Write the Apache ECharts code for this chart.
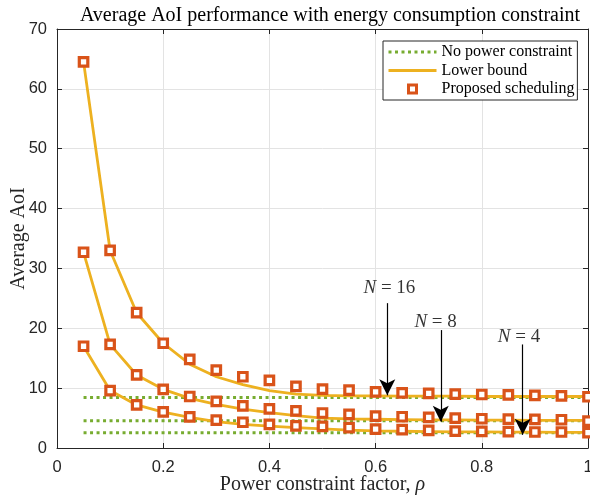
<!DOCTYPE html>
<html><head><meta charset="utf-8">
<script src="https://cdn.jsdelivr.net/npm/echarts@6/dist/echarts.min.js"></script>
<style>html,body{margin:0;padding:0;background:#fff}#c{width:590px;height:497px}</style>
</head><body><div id="c"></div>
<script>
const rho = [0.05,0.1,0.15,0.2,0.25,0.3,0.35,0.4,0.45,0.5,0.55,0.6,0.65,0.7,0.75,0.8,0.85,0.9,0.95,1.0];
// Proposed scheduling
const prop16 = [64.5,33.0,22.6,17.5,14.8,13.0,11.9,11.3,10.3,9.85,9.67,9.39,9.22,9.11,9.0,8.94,8.89,8.78,8.72,8.56];
const prop8  = [32.7,17.3,12.2,9.8,8.6,7.8,7.05,6.55,6.2,5.85,5.61,5.33,5.22,5.11,5.0,4.89,4.83,4.78,4.72,4.5];
const prop4  = [17.0,9.6,7.2,6.05,5.2,4.67,4.3,3.95,3.7,3.6,3.39,3.17,3.06,2.94,2.83,2.78,2.72,2.67,2.67,2.56];
// Lower bound
const lb16 = [64.5,33.0,22.6,17.5,14.0,11.9,10.6,9.6,9.0,8.8,8.7,8.7,8.65,8.65,8.65,8.6,8.6,8.6,8.6,8.6];
const lb8  = [32.7,17.3,12.2,9.8,8.3,7.3,6.5,5.9,5.4,5.0,4.85,4.8,4.75,4.7,4.7,4.65,4.65,4.6,4.6,4.6];
const lb4  = [17.0,9.6,7.2,6.0,5.1,4.4,3.95,3.65,3.4,3.2,3.0,2.85,2.8,2.75,2.7,2.7,2.65,2.65,2.6,2.6];
// No power constraint
const npc16 = 8.45, npc8 = 4.55, npc4 = 2.55;
const npcRange = [0.05, 1.0];
// Annotations
const annLabels = ['16','8','4'];
const annTextPos = [[0.626,26.8],[0.713,21.1],[0.870,18.6]];
const annArrows = [[[0.622,24.2],[0.622,8.8]],[[0.7227,19.7],[0.7227,4.4]],[[0.877,17.3],[0.877,2.2]]];
const xTicks = [0,0.2,0.4,0.6,0.8,1];
const yTicks = [0,10,20,30,40,50,60,70];

const SERIF = '"Liberation Serif","Times New Roman",serif';
const SANS = '"Liberation Sans",Arial,sans-serif';
const GREEN = '#77AC30', ORANGE = '#EDB120', RED = '#D95319', AX = '#262626';

const pairs = (ys) => rho.map((x,i)=>[x,ys[i]]);
const flat = (v) => npcRange.map(x=>[x,v]);

const lineBase = {type:'line', symbol:'none', showSymbol:false, silent:true, animation:false, z:2};
const series = [];
[npc16,npc8,npc4].forEach(v=>series.push(Object.assign({}, lineBase, {name:'No power constraint', data:flat(v), lineStyle:{color:GREEN,width:3,type:[3,3.5]}, itemStyle:{color:GREEN}, z:2})));
[lb16,lb8,lb4].forEach(a=>series.push(Object.assign({}, lineBase, {name:'Lower bound', data:pairs(a), lineStyle:{color:ORANGE,width:2.8}, itemStyle:{color:ORANGE}, z:3})));
[prop16,prop8,prop4].forEach(a=>series.push({type:'scatter', name:'Proposed scheduling', data:pairs(a), symbol:'rect', symbolSize:8.5, itemStyle:{color:'#fff', borderColor:RED, borderWidth:3.2, opacity:1}, clip:false, animation:false, z:4}));
// annotations
series.push({type:'scatter', name:'ann', data:annTextPos.map((p,i)=>({value:p, label:{formatter:'{i|N} = '+annLabels[i]}})), symbolSize:0, silent:true, animation:false, z:6,
  label:{show:true, position:'inside', color:'#000', fontFamily:SERIF, fontSize:19, rich:{i:{fontStyle:'italic', fontFamily:SERIF, fontSize:19, color:'#000'}}},
  markLine:{silent:true, animation:false, symbol:['none','arrow'], symbolSize:[12,16], lineStyle:{color:'#000', width:1.2, type:'solid'}, label:{show:false},
    data:annArrows.map(a=>[{coord:a[0]},{coord:a[1]}])}});

const axisCommon = {min:0, nameMoveOverlap:false, axisLine:{show:true, onZero:false, lineStyle:{color:AX,width:1}}, axisTick:{show:true, inside:true, length:5, lineStyle:{color:AX}}};
const option = {
  animation:false,
  title:{text:'Average AoI performance with energy consumption constraint', left:325, textAlign:'center', top:1, textStyle:{fontFamily:SERIF, fontWeight:'normal', fontSize:20, color:'#000'}},
  grid:{left:57, right:2, top:29, bottom:49, containLabel:false, outerBoundsMode:'none'},
  legend:{orient:'vertical', left:383, top:41, itemWidth:48, itemHeight:8, itemGap:2.5, padding:[3,3,3,4],
    data:[
      {name:'No power constraint', itemStyle:{opacity:0}, lineStyle:{color:GREEN, width:3, type:[3,3.5]}},
      {name:'Lower bound', itemStyle:{opacity:0}, lineStyle:{color:ORANGE, width:2.8}},
      {name:'Proposed scheduling', icon:'path://M0,0L10,0L10,10L0,10Z', itemStyle:{color:'#fff', borderColor:RED, borderWidth:3}}
    ],
    backgroundColor:'#fff', borderColor:AX, borderWidth:1, borderRadius:0, textStyle:{fontFamily:SERIF, fontSize:16, color:'#000'}, selectedMode:false},
  xAxis:[
    Object.assign({}, axisCommon, {type:'value', max:1, interval:0.2, position:'bottom', name:'Power constraint factor, {i|ρ}', nameLocation:'middle', nameGap:27,
      nameTextStyle:{fontFamily:SERIF, fontSize:20, color:AX, rich:{i:{fontStyle:'italic', fontFamily:SERIF, fontSize:20, color:AX}}},
      axisLabel:{fontFamily:SANS, fontSize:16.5, color:AX, margin:11, formatter:(v)=>xTicks.includes(+v.toFixed(1))?String(+v.toFixed(1)):''},
      splitLine:{show:true, lineStyle:{color:'#e3e3e3', width:1}}}),
    Object.assign({}, axisCommon, {type:'value', max:1, interval:0.2, position:'top', axisLabel:{show:false}, splitLine:{show:false}})
  ],
  yAxis:[
    Object.assign({}, axisCommon, {type:'value', max:70, interval:10, position:'left', name:'Average AoI', nameLocation:'middle', nameGap:28,
      nameTextStyle:{fontFamily:SERIF, fontSize:20, color:AX},
      axisLabel:{fontFamily:SANS, fontSize:16.5, color:AX, margin:10, formatter:(v)=>yTicks.includes(v)?String(v):''},
      splitLine:{show:true, lineStyle:{color:'#e3e3e3', width:1}}}),
    Object.assign({}, axisCommon, {type:'value', max:70, interval:10, position:'right', axisLabel:{show:false}, splitLine:{show:false}})
  ],
  series: series
};
const chart = echarts.init(document.getElementById('c'), null, {renderer:'canvas'});
chart.setOption(option);
</script></body></html>
